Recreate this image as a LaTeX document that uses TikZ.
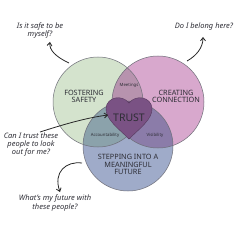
\documentclass[tikz,border=0pt]{standalone}
\usepackage{fontspec}
\setmainfont{Noto Sans}
\usetikzlibrary{arrows.meta}
\definecolor{cgreen}{HTML}{D4E3CD}
\definecolor{cpink}{HTML}{D8A8CD}
\definecolor{cblue}{HTML}{9FABC9}
\definecolor{cgp}{HTML}{B793AE}
\definecolor{cgb}{HTML}{8BA2AB}
\definecolor{cpb}{HTML}{8B7CA9}
\definecolor{cheart}{HTML}{7A5284}
\definecolor{cedge}{HTML}{6E6E78}
\definecolor{ctext}{HTML}{2E2E36}
\tikzset{
  question/.style={align=center, text=ctext, inner sep=0pt, font=\fontsize{7.5}{8.3}\selectfont\itshape},
  title/.style={align=center, text=ctext, inner sep=0pt, font=\fontsize{7.3}{7.7}\selectfont},
  small/.style={text=ctext, inner sep=0pt, font=\fontsize{4.3}{5}\selectfont},
  trusttext/.style={text=ctext, inner sep=0pt, font=\fontsize{10.5}{12}\selectfont},
  edge/.style={draw=cedge, line width=0.5pt},
  qarrow/.style={draw=black!85, line width=0.8pt, -{Straight Barb[length=3.2pt,width=5pt]}}
}
\begin{document}
\begin{tikzpicture}[x=1pt,y=-1pt]
\useasboundingbox (0,0) rectangle (240,240);
\def\G{(98,102) circle (45)}
\def\P{(158,102) circle (46)}
\def\B{(128,146) circle (45)}
% base fills
\fill[cgreen] \G;
\fill[cpink] \P;
\fill[cblue] \B;
\begin{scope}\clip \G; \fill[cgp] \P; \end{scope}
\begin{scope}\clip \G; \fill[cgb] \B; \end{scope}
\begin{scope}\clip \P; \fill[cpb] \B; \end{scope}
\begin{scope}\clip \G; \clip \P; \fill[cheart] \B; \end{scope}
% outlines
\draw[edge] \G;
\draw[edge] \P;
\draw[edge] \B;
% heart
\path[fill=cheart, draw=cheart!70!black, line width=0.4pt]
  (129,139) .. controls (119,129) and (105,119) .. (106,108)
  .. controls (107,97) and (122,94) .. (129,103)
  .. controls (136,94) and (151,97) .. (152,108)
  .. controls (153,119) and (139,129) .. (129,139) -- cycle;
% texts
\node[trusttext] (trust) at (129,118) {TRUST};
\node[small] (meet) at (129,85) {Meetings};
\node[small] (acc) at (105,135) {Accountability};
\node[small] (vis) at (155,135) {Visibility};
\node[title] (fs) at (84,96.5) {FOSTERING\\SAFETY};
\node[title] (cc) at (176,96.5) {CREATING\\CONNECTION};
\node[title] (sf) at (128,164.5) {STEPPING INTO A\\MEANINGFUL\\FUTURE};
\node[question] (q1) at (40,30.5) {Is it safe to be\\myself?};
\node[question] (q2) at (204,27) {Do I belong here?};
\node[question] (q3) at (31,144.5) {Can I trust these\\people to look\\out for me?};
\node[question] (q4) at (55,203) {What's my future with\\these people?};
% arrow ends
\coordinate (a1s) at (69,63);
\coordinate (a1e) at (50,42);
\coordinate (a2s) at (187,61);
\coordinate (a2e) at (203,37);
\coordinate (a3s) at (40,132);
\coordinate (a3e) at (108,115);
\coordinate (a4s) at (82,163);
\coordinate (a4e) at (60,192);
\draw[qarrow] (a1s) .. controls (56,57) and (49,50) .. (a1e);
\draw[qarrow] (a2s) .. controls (196,56) and (203,48) .. (a2e);
\draw[qarrow] (a3s) .. controls (62,125) and (85,118) .. (a3e);
\draw[qarrow] (a4s) .. controls (66,161) and (53,172) .. (a4e);
\end{tikzpicture}
\end{document}
